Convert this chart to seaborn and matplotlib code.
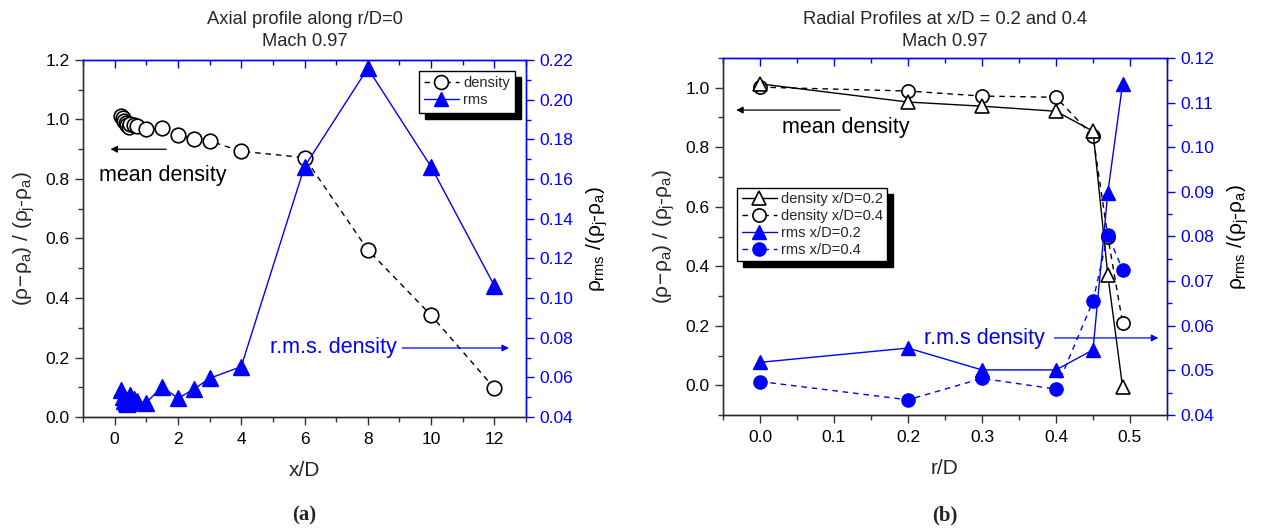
import matplotlib
matplotlib.use("Agg")
import matplotlib.pyplot as plt
from matplotlib.ticker import MultipleLocator
from matplotlib.patches import Rectangle
from matplotlib.lines import Line2D
import seaborn as sns

# ---- axial profile along r/D = 0 ----
axial_x = [0.2, 0.25, 0.3, 0.35, 0.4, 0.45, 0.5, 0.6, 0.7, 1.0, 1.5, 2.0, 2.5, 3.0, 4.0, 6.0, 8.0, 10.0, 12.0]
axial_density = [1.012, 1.005, 0.995, 0.988, 0.982, 0.976, 0.985, 0.983, 0.977, 0.967, 0.970, 0.947,
                 0.935, 0.928, 0.893, 0.872, 0.562, 0.342, 0.097]
axial_rms = [0.0535, 0.0500, 0.0480, 0.0470, 0.0465, 0.0470, 0.0510, 0.0490, 0.0480, 0.0472, 0.0553,
             0.0494, 0.0540, 0.0595, 0.0654, 0.1662, 0.2158, 0.1662, 0.1062]

# ---- radial profiles at x/D = 0.2 and 0.4 ----
radial_r = [0.0, 0.2, 0.3, 0.4, 0.45, 0.47, 0.49]
density_02 = [1.013, 0.952, 0.938, 0.921, 0.854, 0.371, -0.006]
density_04 = [1.002, 0.989, 0.972, 0.968, 0.837, 0.500, 0.210]
rms_02 = [0.0518, 0.0550, 0.0501, 0.0501, 0.0546, 0.0898, 0.1142]
rms_04 = [0.0475, 0.0434, 0.0482, 0.0458, 0.0655, 0.0804, 0.0726]

titles = [["Axial profile along r/D=0", "Mach 0.97"],
          ["Radial Profiles at x/D = 0.2 and 0.4", "Mach 0.97"]]
xlabels = ["x/D", "r/D"]
panel_tags = ["(a)", "(b)"]

sns.set_theme(style="ticks")
plt.rcParams["font.family"] = ["Liberation Sans", "DejaVu Sans"]
plt.rcParams["mathtext.fontset"] = "custom"
plt.rcParams["mathtext.rm"] = "Liberation Sans"
plt.rcParams["mathtext.it"] = "Liberation Sans"
plt.rcParams["mathtext.bf"] = "Liberation Sans:bold"

BLUE = "#0000ff"
DASH = (0, (4, 3.5))
left_label = r"$(\rho\!-\!\rho_a)$ / $(\rho_j$-$\rho_a)$"
right_label = r"$\rho_{rms}$ /$(\rho_j$-$\rho_a)$"
NOTE_SIZE = 15.5

fig = plt.figure(figsize=(12.65, 5.29), dpi=100)
axA = fig.add_axes([83 / 1265, 112 / 529, 443 / 1265, 357 / 529])
axB = fig.add_axes([723 / 1265, 114 / 529, 444 / 1265, 357 / 529])


def style_axes(ax, ax2, xlim, xmaj, xmin, ylim, ymaj, ymin, y2lim, y2maj, y2min):
    ax.set_xlim(*xlim)
    ax.set_ylim(*ylim)
    ax2.set_ylim(*y2lim)
    ax.xaxis.set_major_locator(MultipleLocator(xmaj))
    ax.xaxis.set_minor_locator(MultipleLocator(xmin))
    ax.yaxis.set_major_locator(MultipleLocator(ymaj))
    ax.yaxis.set_minor_locator(MultipleLocator(ymin))
    ax2.yaxis.set_major_locator(MultipleLocator(y2maj))
    ax2.yaxis.set_minor_locator(MultipleLocator(y2min))
    for a in (ax, ax2):
        for s in a.spines.values():
            s.set_linewidth(1.0)
    ax.spines["top"].set_visible(False)
    ax2.spines["top"].set_color(BLUE)
    ax2.spines["right"].set_color(BLUE)
    ax2.spines["left"].set_color("#333333")
    ax.spines["left"].set_color("#333333")
    ax.spines["bottom"].set_color("#333333")
    ax.tick_params(axis="both", which="major", direction="out", length=6, width=1,
                   labelsize=12.5, colors="#333333", labelcolor="black")
    ax.tick_params(axis="both", which="minor", direction="out", length=3.5, width=1, colors="#333333")
    ax.tick_params(axis="x", pad=5)
    ax2.tick_params(axis="y", which="major", direction="out", length=6, width=1,
                    labelsize=12.5, colors=BLUE)
    ax2.tick_params(axis="y", which="minor", direction="out", length=3.5, width=1, colors=BLUE)
    top = ax.secondary_xaxis("top")
    top.xaxis.set_major_locator(MultipleLocator(xmaj))
    top.xaxis.set_minor_locator(MultipleLocator(xmin))
    top.tick_params(axis="x", which="major", direction="in", length=6, width=1, colors=BLUE,
                    labeltop=False)
    top.tick_params(axis="x", which="minor", direction="in", length=3.5, width=1, colors=BLUE)
    top.spines["top"].set_color(BLUE)
    top.spines["top"].set_linewidth(1.0)


def add_shadow(leg, ax, dx=6, dy=6):
    fig.canvas.draw()
    bb = leg.get_window_extent()
    inv = ax.transAxes.inverted()
    (x0, y0) = inv.transform((bb.x0 + dx, bb.y0 - dy))
    (x1, y1) = inv.transform((bb.x1 + dx, bb.y1 - dy))
    ax.add_patch(Rectangle((x0, y0), x1 - x0, y1 - y0, transform=ax.transAxes,
                           facecolor="black", edgecolor="black", zorder=4.9, clip_on=False))


# ================= panel (a) =================
axA2 = axA.twinx()
sns.lineplot(x=axial_x, y=axial_density, ax=axA, color="black", linestyle=DASH, lw=1.0,
             marker="o", markersize=10.5, mfc="white", mec="black", mew=1.2, errorbar=None)
sns.lineplot(x=axial_x, y=axial_rms, ax=axA2, color=BLUE, lw=1.0,
             marker="^", markersize=11, mfc=BLUE, mec=BLUE, mew=1.0, errorbar=None)
style_axes(axA, axA2, (-1, 13), 2, 1, (0, 1.2), 0.2, 0.1, (0.04, 0.22), 0.02, 0.01)
axA.set_yticklabels([f"{v:.1f}" for v in axA.get_yticks()])
axA2.set_yticklabels([f"{v:.2f}" for v in axA2.get_yticks()])

axA.annotate("", xy=(-0.22, 0.90), xytext=(1.72, 0.90),
             arrowprops=dict(arrowstyle="-|>", color="black", lw=0.9, mutation_scale=10))
axA.text(-0.5, 0.813, "mean density", fontsize=NOTE_SIZE, color="black", va="center", ha="left")
axA.text(4.9, 0.232, "r.m.s. density", fontsize=NOTE_SIZE, color=BLUE, va="center", ha="left")
axA.annotate("", xy=(12.55, 0.232), xytext=(9.0, 0.232),
             arrowprops=dict(arrowstyle="-|>", color=BLUE, lw=0.9, mutation_scale=10))

hA = [Line2D([], [], color="black", linestyle=DASH, lw=1.0, marker="o", markersize=10,
             mfc="white", mec="black", mew=1.2),
      Line2D([], [], color=BLUE, lw=1.0, marker="^", markersize=10.5, mfc=BLUE, mec=BLUE)]
legA = axA2.legend(hA, ["density", "rms"], loc="upper right", bbox_to_anchor=(0.975, 0.97),
                   fontsize=10.5, frameon=True, fancybox=False, framealpha=1, edgecolor="black",
                   handlelength=2.4, handletextpad=0.3, borderpad=0.35, labelspacing=0.25,
                   borderaxespad=0)
legA.get_frame().set_linewidth(1.0)
legA.set_zorder(5)

axA.set_ylabel(left_label, fontsize=15, labelpad=6)
axA2.set_ylabel(right_label, fontsize=15, labelpad=8, color="black")
axA.set_xlabel(xlabels[0], fontsize=15, labelpad=10)

# ================= panel (b) =================
axB2 = axB.twinx()
sns.lineplot(x=radial_r, y=density_04, ax=axB, color="black", linestyle=DASH, lw=1.0,
             marker="o", markersize=9.5, mfc="white", mec="black", mew=1.2, errorbar=None)
sns.lineplot(x=radial_r, y=density_02, ax=axB, color="black", lw=1.0,
             marker="^", markersize=10.5, mfc="white", mec="black", mew=1.2, errorbar=None)
sns.lineplot(x=radial_r, y=rms_04, ax=axB2, color=BLUE, linestyle=DASH, lw=1.0,
             marker="o", markersize=9.5, mfc=BLUE, mec=BLUE, mew=1.0, errorbar=None)
sns.lineplot(x=radial_r, y=rms_02, ax=axB2, color=BLUE, lw=1.0,
             marker="^", markersize=10.5, mfc=BLUE, mec=BLUE, mew=1.0, errorbar=None)
style_axes(axB, axB2, (-0.05, 0.55), 0.1, 0.05, (-0.1, 1.1), 0.2, 0.1, (0.04, 0.12), 0.01, 0.005)
axB.set_yticks([0.0, 0.2, 0.4, 0.6, 0.8, 1.0])
axB.set_yticklabels([f"{v:.1f}" for v in axB.get_yticks()])
axB.set_xticklabels([f"{v:.1f}" for v in axB.get_xticks()])
axB2.set_yticklabels([f"{v:.2f}" for v in axB2.get_yticks()])

axB.annotate("", xy=(-0.036, 0.925), xytext=(0.112, 0.925),
             arrowprops=dict(arrowstyle="-|>", color="black", lw=0.9, mutation_scale=10))
axB.text(0.030, 0.865, "mean density", fontsize=NOTE_SIZE, color="black", va="center", ha="left")
axB.text(0.222, 0.157, "r.m.s density", fontsize=NOTE_SIZE, color=BLUE, va="center", ha="left")
axB.annotate("", xy=(0.542, 0.159), xytext=(0.394, 0.159),
             arrowprops=dict(arrowstyle="-|>", color=BLUE, lw=0.9, mutation_scale=10))

hB = [Line2D([], [], color="black", lw=1.0, marker="^", markersize=10, mfc="white", mec="black", mew=1.2),
      Line2D([], [], color="black", linestyle=DASH, lw=1.0, marker="o", markersize=9.5,
             mfc="white", mec="black", mew=1.2),
      Line2D([], [], color=BLUE, lw=1.0, marker="^", markersize=10, mfc=BLUE, mec=BLUE),
      Line2D([], [], color=BLUE, linestyle=DASH, lw=1.0, marker="o", markersize=9.5, mfc=BLUE, mec=BLUE)]
legB = axB2.legend(hB, ["density x/D=0.2", "density x/D=0.4", "rms x/D=0.2", "rms x/D=0.4"],
                   loc="upper left", bbox_to_anchor=(0.032, 0.637),
                   fontsize=10.5, frameon=True, fancybox=False, framealpha=1, edgecolor="black",
                   handlelength=2.4, handletextpad=0.3, borderpad=0.3, labelspacing=0.2,
                   borderaxespad=0)
legB.get_frame().set_linewidth(1.0)
legB.set_zorder(5)

axB.set_ylabel(left_label, fontsize=15, labelpad=6)
axB2.set_ylabel(right_label, fontsize=15, labelpad=8, color="black")
axB.set_xlabel(xlabels[1], fontsize=15, labelpad=10)

# ---- titles and panel tags ----
for ax, (t1, t2), tag in zip((axA, axB), titles, panel_tags):
    pos = ax.get_position()
    cx = (pos.x0 + pos.x1) / 2
    fig.text(cx, 1 - 19 / 529, t1, ha="center", va="center", fontsize=13.2)
    fig.text(cx, 1 - 42 / 529, t2, ha="center", va="center", fontsize=13.2)
    fig.text(cx, 1 - 515 / 529, tag, ha="center", va="center", fontsize=15, fontweight="bold",
             family=["Liberation Serif", "DejaVu Serif"])

add_shadow(legA, axA2)
add_shadow(legB, axB2)

fig.savefig("out.png", dpi=100, facecolor="white")
